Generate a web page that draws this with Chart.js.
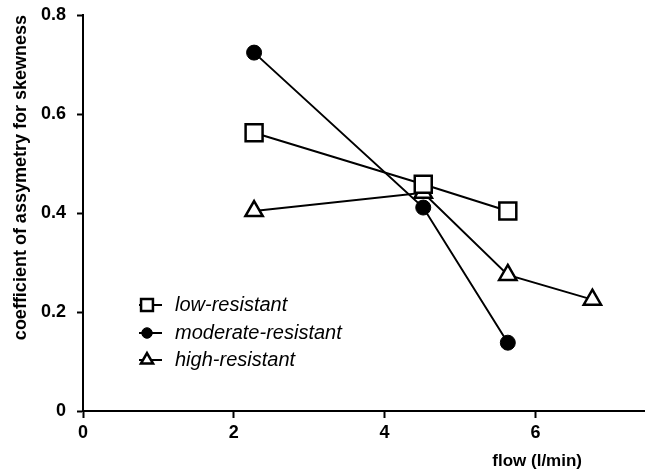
<!DOCTYPE html>
<html>
<head>
<meta charset="utf-8">
<script src="https://cdn.jsdelivr.net/npm/chart.js@4/dist/chart.umd.min.js"></script>
<style>
  html, body { margin: 0; padding: 0; background: #fff; overflow: hidden; }
  /* a bit wider than the window so the x axis runs off the right edge like the original */
  #wrap { width: 660px; height: 472px; position: relative; }
  canvas { display: block; }
</style>
</head>
<body>
<div id="wrap"><canvas id="flowChart"></canvas></div>
<script>
  // Data
  const flow = [2, 4, 5, 6];
  const lowResistant = [0.562, 0.458, 0.404, null];
  const moderateResistant = [0.724, 0.411, 0.138, null];
  const highResistant = [0.404, 0.441, 0.275, 0.225];
  const seriesNames = ['low-resistant', 'moderate-resistant', 'high-resistant'];
  const xTicks = [0, 2, 4, 6];
  const yTicks = [0, 0.2, 0.4, 0.6, 0.8];

  const FONT = "'Liberation Sans', Arial, sans-serif";

  function toPoints(values) {
    return flow.map((x, i) => ({ x: x, y: values[i] })).filter(p => p.y !== null);
  }

  // legend + x title drawn inside the plot like the original
  const insideLegend = {
    id: 'insideLegend',
    afterDraw(chart) {
      const ctx = chart.ctx;
      const rows = [305, 333, 360];
      ctx.save();
      chart.data.datasets.forEach((ds, i) => {
        const y = rows[i];
        ctx.strokeStyle = '#000';
        ctx.lineWidth = 2;
        ctx.beginPath();
        ctx.moveTo(139, y);
        ctx.lineTo(162, y);
        ctx.stroke();
        ctx.fillStyle = ds.pointBackgroundColor;
        ctx.strokeStyle = '#000';
        ctx.lineWidth = ds.pointBorderWidth;
        Chart.helpers.drawPoint(ctx, {
          pointStyle: ds.pointStyle,
          radius: ds.pointRadius * 0.7,
          borderWidth: ds.pointBorderWidth,
          rotation: 0
        }, 147, y);
        ctx.fillStyle = '#000';
        ctx.font = 'italic 20px ' + FONT;
        ctx.textBaseline = 'middle';
        ctx.textAlign = 'left';
        ctx.fillText(seriesNames[i], 175, y);
      });
      ctx.font = 'bold 17px ' + FONT;
      ctx.textAlign = 'right';
      ctx.textBaseline = 'middle';
      ctx.fillText('flow (l/min)', 582, 461);
      ctx.restore();
    }
  };

  const ctxFlow = document.getElementById('flowChart').getContext('2d');
  const flowChart = new Chart(ctxFlow, {
    type: 'line',
    data: {
      datasets: [{
        label: seriesNames[0],
        data: toPoints(lowResistant),
        xAxisID: 'xData',
        borderColor: '#000',
        borderWidth: 2,
        pointStyle: 'rect',
        pointRadius: 12,
        pointBackgroundColor: '#fff',
        pointBorderColor: '#000',
        pointBorderWidth: 2.5
      }, {
        label: seriesNames[1],
        data: toPoints(moderateResistant),
        xAxisID: 'xData',
        borderColor: '#000',
        borderWidth: 2,
        pointStyle: 'circle',
        pointRadius: 7.5,
        pointBackgroundColor: '#000',
        pointBorderColor: '#000',
        pointBorderWidth: 1
      }, {
        label: seriesNames[2],
        data: toPoints(highResistant),
        xAxisID: 'xData',
        borderColor: '#000',
        borderWidth: 2,
        pointStyle: 'triangle',
        pointRadius: 10,
        pointBackgroundColor: '#fff',
        pointBorderColor: '#000',
        pointBorderWidth: 2.5
      }]
    },
    options: {
      responsive: true,
      maintainAspectRatio: false,
      animation: false,
      layout: { padding: { top: 15, left: 0, right: 0, bottom: 0 } },
      plugins: {
        legend: { display: false },
        tooltip: { enabled: false }
      },
      scales: {
        // the printed flow axis
        x: {
          type: 'linear',
          position: 'bottom',
          min: 0,
          max: 7.46,
          afterBuildTicks: scale => {
            scale.ticks = xTicks.map(v => ({ value: v }));
          },
          afterFit: scale => {
            scale.height = 61;
            scale.paddingLeft = 0;
            scale.paddingRight = 0;
          },
          ticks: {
            color: '#000',
            font: { family: FONT, size: 18, weight: 'bold' },
            padding: 4,
            maxRotation: 0,
            callback: v => String(v)
          },
          grid: {
            display: true,
            drawOnChartArea: false,
            tickLength: 7,
            tickWidth: 2,
            tickColor: '#000'
          },
          border: { color: '#000', width: 2 }
        },
        // the markers in the original sit on a slightly wider spacing than the printed ticks
        xData: {
          type: 'linear',
          display: false,
          min: -0.023,
          max: 6.628
        },
        y: {
          min: 0,
          max: 0.8,
          afterBuildTicks: scale => {
            scale.ticks = yTicks.map(v => ({ value: v }));
          },
          afterFit: scale => {
            scale.width = 83;
            scale.paddingTop = 0;
            scale.paddingBottom = 0;
          },
          ticks: {
            color: '#000',
            font: { family: FONT, size: 18, weight: 'bold' },
            padding: 11,
            callback: v => String(+v.toFixed(1))
          },
          grid: {
            display: true,
            drawOnChartArea: false,
            tickLength: 6,
            tickWidth: 2,
            tickColor: '#000'
          },
          border: { color: '#000', width: 2 },
          title: {
            display: true,
            text: 'coefficient of assymetry for skewness',
            align: 'end',
            color: '#000',
            font: { family: FONT, size: 18, weight: 'bold' },
            padding: { top: 10, bottom: 0 }
          }
        }
      }
    },
    plugins: [insideLegend]
  });
</script>
</body>
</html>
